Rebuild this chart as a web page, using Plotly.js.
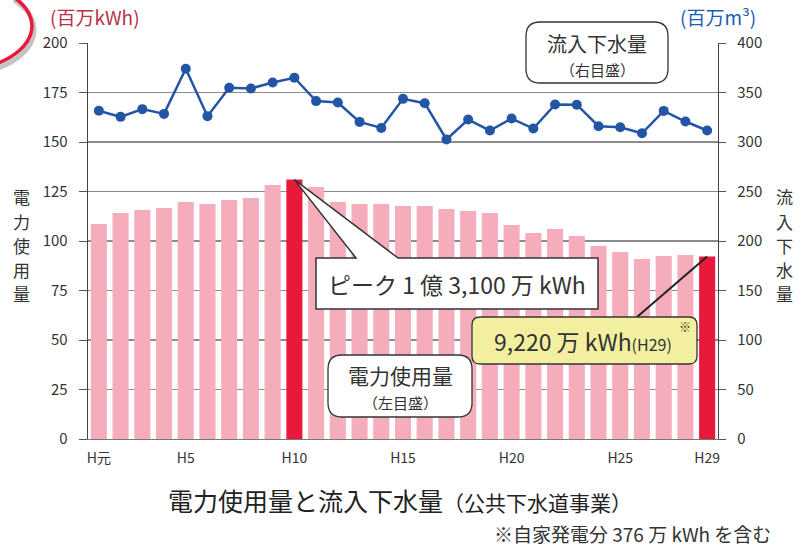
<!DOCTYPE html>
<html>
<head>
<meta charset="utf-8">
<script src="https://cdn.plot.ly/plotly-3.0.1.min.js"></script>
<style>
  html, body { margin: 0; padding: 0; background: #fff; }
  #chart { width: 806px; height: 547px; }
</style>
</head>
<body>
<div id="chart"></div>
<script>
// 平成元年〜29年
const years = [1, 2, 3, 4, 5, 6, 7, 8, 9, 10, 11, 12, 13, 14, 15, 16, 17, 18, 19, 20, 21, 22, 23, 24, 25, 26, 27, 28, 29];
const tickVals = [1, 5, 10, 15, 20, 25, 29];
const tickText = ['H元', 'H5', 'H10', 'H15', 'H20', 'H25', 'H29'];

// 電力使用量（百万kWh・左目盛）
const power = [108.6, 114.1, 115.7, 116.7, 119.7, 118.7, 120.7, 121.7, 128.3, 131.0,
  127.3, 119.7, 118.7, 118.7, 117.7, 117.7, 116.2, 115.2, 114.1, 108.1,
  104.0, 106.1, 102.5, 97.5, 94.4, 90.9, 92.4, 92.9, 92.2];

// 流入下水量（百万m3・右目盛）
const inflow = [331.5, 325.4, 333.2, 328.4, 374.0, 326.1, 354.8, 354.1, 360.1, 364.9,
  341.3, 339.9, 320.3, 314.2, 343.6, 339.2, 302.6, 322.7, 311.6, 323.7,
  313.6, 337.9, 337.7, 315.9, 314.9, 308.8, 331.4, 320.7, 311.6];

const peakLabel = 'ピーク 1 億 3,100 万 kWh';
const lastLabel = '9,220 万 kWh<span style="font-size:16px">(H29)</span>';
const FONT = '"Noto Sans CJK JP", "Noto Sans", sans-serif';

const PINK = '#f5adbc';
const RED = '#e8193b';
const BLUE = '#2355a5';

const peakIdx = power.indexOf(Math.max(...power));
const lastIdx = power.length - 1;
const barColors = power.map((v, i) => (i === peakIdx || i === lastIdx) ? RED : PINK);

// plot area in pixels: l=88, r=718, t=43, b=439
const L = 88, R = 718, T = 43, B = 439;
const px = x => (x - L) / (R - L);
const py = y => (B - y) / (B - T);
// pixel -> data units (x: 0.5..29.5, y: 0..200)
const dx = x => 0.5 + (x - L) / (R - L) * 29;
const dy = y => (B - y) / (B - T) * 200;

function roundRect(x0, y0, x1, y1, r) {
  const p = (x, y) => `${px(x)},${py(y)}`;
  return `M ${p(x0 + r, y0)} L ${p(x1 - r, y0)} Q ${p(x1, y0)} ${p(x1, y0 + r)} ` +
    `L ${p(x1, y1 - r)} Q ${p(x1, y1)} ${p(x1 - r, y1)} L ${p(x0 + r, y1)} ` +
    `Q ${p(x0, y1)} ${p(x0, y1 - r)} L ${p(x0, y0 + r)} Q ${p(x0, y0)} ${p(x0 + r, y0)} Z`;
}

function swoosh(ox, oy) {
  const p = (x, y) => `${px(x + ox)},${py(y + oy)}`;
  return `M ${p(-4, 64)} C ${p(34, 50)} ${p(46, 18)} ${p(12, -4)}`;
}

const traces = [{
  type: 'bar',
  x: years,
  y: power,
  width: 0.74,
  marker: { color: barColors },
  hoverinfo: 'skip',
}, {
  type: 'scatter',
  x: years,
  y: inflow,
  yaxis: 'y2',
  mode: 'lines+markers',
  line: { color: BLUE, width: 2.5 },
  marker: { color: BLUE, size: 10 },
  hoverinfo: 'skip',
}];

const peakPath = `M ${dx(316)},${dy(258)} L ${dx(356)},${dy(258)} L ${years[peakIdx]},${power[peakIdx]} ` +
  `L ${dx(398)},${dy(258)} L ${dx(598)},${dy(258)} L ${dx(598)},${dy(309)} L ${dx(316)},${dy(309)} Z`;

const shapes = [
  { type: 'path', xref: 'paper', yref: 'paper', path: swoosh(2, 4), line: { color: '#c4c4c4', width: 5 } },
  { type: 'path', xref: 'paper', yref: 'paper', path: swoosh(0, 0), line: { color: RED, width: 3.5 } },
  { type: 'path', xref: 'paper', yref: 'paper', path: roundRect(526, 22, 668, 83, 14),
    fillcolor: '#fff', line: { color: '#333', width: 1.3 } },
  { type: 'path', xref: 'paper', yref: 'paper', path: roundRect(328, 355, 472, 417, 14),
    fillcolor: '#fff', line: { color: '#333', width: 1.3 } },
  { type: 'path', xref: 'x', yref: 'y', path: peakPath,
    fillcolor: '#fff', line: { color: '#333', width: 1.5 } },
  { type: 'line', xref: 'x', yref: 'y', x0: dx(637), y0: dy(317), x1: years[lastIdx], y1: power[lastIdx],
    line: { color: '#222', width: 2 } },
  { type: 'path', xref: 'paper', yref: 'paper', path: roundRect(472, 317, 697, 364, 8),
    fillcolor: '#f2f0a0', line: { color: '#333', width: 1.3 } },
];

const note = (x, y, text, size, color, extra) => Object.assign({
  xref: 'paper', yref: 'paper', x: px(x), y: py(y), text, showarrow: false,
  xanchor: 'center', yanchor: 'middle',
  font: { family: FONT, size, color: color || '#333' },
}, extra || {});

const annotations = [
  note(95, 17, '(百万kWh)', 19, '#b8304c'),
  note(718, 17, '(百万m³)', 19, '#1b5cb4'),
  note(597, 43, '流入下水量', 20),
  note(597, 69, '（右目盛）', 15),
  note(400, 375, '電力使用量', 21),
  note(400, 402, '（左目盛）', 15),
  note(457, 284, peakLabel, 23),
  note(583, 341, lastLabel, 23),
  note(685, 326, '※', 12),
  note(400, 500, '電力使用量と流入下水量<span style="font-size:21px">（公共下水道事業）</span>', 25, '#222'),
  note(773, 533, '※自家発電分 376 万 kWh を含む', 19, '#333', { xanchor: 'right' }),
];
// vertical axis titles, one character per line
[...'電力使用量'].forEach((c, i) => annotations.push(note(21, 197 + i * 24, c, 17)));
[...'流入下水量'].forEach((c, i) => annotations.push(note(784, 197 + i * 24, c, 17)));

const layout = {
  width: 806,
  height: 547,
  margin: { l: L, r: 806 - R, t: T, b: 547 - B },
  paper_bgcolor: '#fff',
  plot_bgcolor: '#fff',
  showlegend: false,
  font: { family: FONT, color: '#333' },
  xaxis: {
    range: [0.5, 29.5],
    tickvals: tickVals,
    ticktext: tickText,
    ticks: '',
    showgrid: false,
    zeroline: false,
    showline: true,
    linecolor: '#777',
    linewidth: 1.3,
    ticklabelstandoff: 6,
    tickfont: { size: 14, color: '#333' },
  },
  yaxis: {
    range: [0, 200],
    dtick: 25,
    ticks: 'outside',
    ticklen: 8,
    tickcolor: '#555',
    showline: true,
    linecolor: '#444',
    linewidth: 1.3,
    gridcolor: '#8c8c8c',
    gridwidth: 1.3,
    zeroline: false,
    ticklabelstandoff: 8,
    tickfont: { size: 15, color: '#333' },
  },
  yaxis2: {
    overlaying: 'y',
    side: 'right',
    range: [0, 400],
    dtick: 50,
    ticks: 'outside',
    ticklen: 7,
    tickcolor: '#555',
    showline: true,
    linecolor: '#444',
    linewidth: 1.3,
    showgrid: false,
    zeroline: false,
    ticklabelstandoff: 8,
    tickfont: { size: 15, color: '#333' },
  },
  shapes,
  annotations,
};

Plotly.newPlot('chart', traces, layout, { displayModeBar: false, staticPlot: true });
</script>
</body>
</html>
